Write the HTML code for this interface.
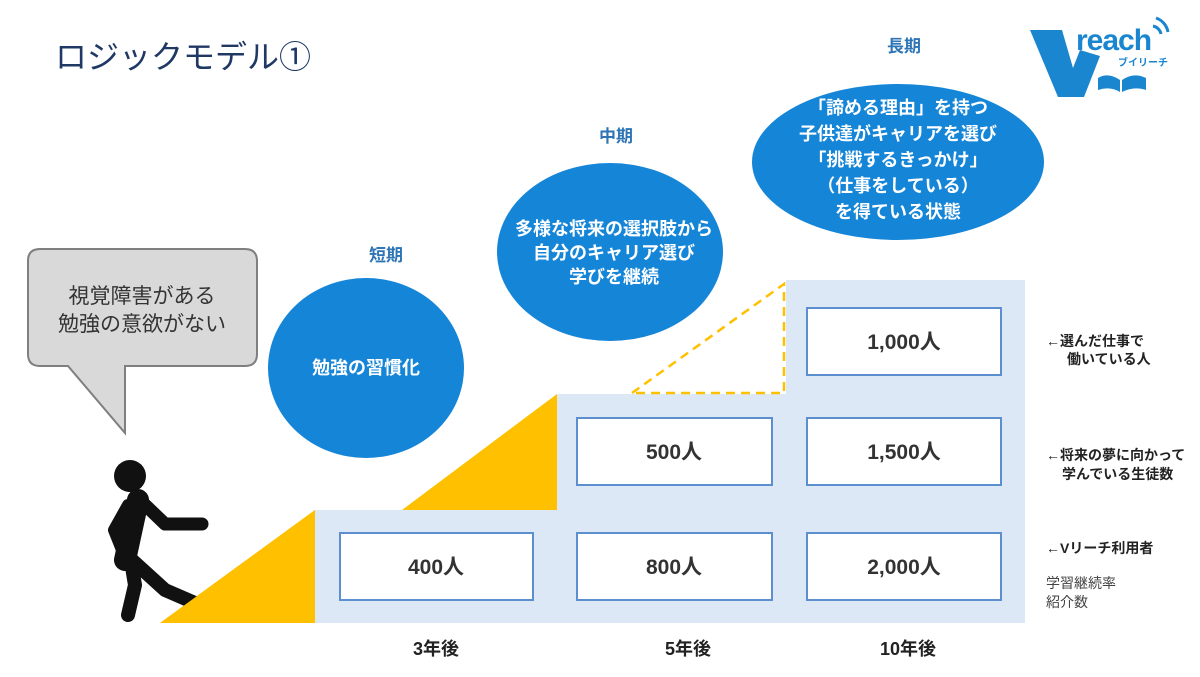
<!DOCTYPE html>
<html><head><meta charset="utf-8"><style>
html,body{margin:0;padding:0;background:#fff;}
svg{display:block;}
text{font-family:"Liberation Sans","Noto Sans CJK JP",sans-serif;}
</style></head><body>
<svg width="1200" height="677" viewBox="0 0 1200 677" xmlns="http://www.w3.org/2000/svg">
<text x="55" y="68" font-size="32" fill="#1f3864">ロジックモデル①</text>

<!-- logo -->
<g fill="#1a86d0">
<polygon points="1030,30 1062,30 1073,68 1080,50 1100,56 1084,97 1058,97"/>
<text x="1076" y="50" font-size="30" font-weight="bold" fill="#1a86d0" letter-spacing="-1">reach</text>
<text x="1118" y="66" font-size="10" font-weight="bold" fill="#1a86d0">ブイリーチ</text>
<path d="M1098 78 q10 -6 22 2 v12 q-10 -6 -22 -2 z M1122 80 q12 -8 24 -2 v12 q-12 -4 -24 2z"/>
<path d="M1153 26 a10 10 0 0 1 8 8" stroke="#1a86d0" stroke-width="3" fill="none"/>
<path d="M1156 18 a18 18 0 0 1 12 14" stroke="#1a86d0" stroke-width="3" fill="none"/>
</g>

<!-- light blue region -->
<polygon points="315,510 557,510 557,394 786,394 786,280 1025,280 1025,623 315,623" fill="#dce8f5"/>
<polygon points="160,623 315,510 315,623" fill="#ffc000"/>
<polygon points="402,510 557,394 557,510" fill="#ffc000"/>
<path d="M632 393 L784 284 L784 393 Z" fill="none" stroke="#ffc000" stroke-width="2.5" stroke-dasharray="9,6"/>

<g fill="#fff" stroke="#5b8fd0" stroke-width="2">
<rect x="340" y="533" width="193" height="67"/>
<rect x="577" y="533" width="195" height="67"/>
<rect x="807" y="533" width="194" height="67"/>
<rect x="577" y="418" width="195" height="67"/>
<rect x="807" y="418" width="194" height="67"/>
<rect x="807" y="308" width="194" height="67"/>
</g>
<g font-size="21" font-weight="bold" fill="#333" text-anchor="middle">
<text x="436" y="574">400人</text>
<text x="674" y="574">800人</text>
<text x="904" y="574">2,000人</text>
<text x="674" y="459">500人</text>
<text x="904" y="459">1,500人</text>
<text x="904" y="349">1,000人</text>
</g>

<g fill="#1585d8">
<ellipse cx="366" cy="368" rx="98" ry="90"/>
<ellipse cx="610" cy="252" rx="113" ry="89"/>
<ellipse cx="898" cy="162" rx="146" ry="78"/>
</g>
<g font-size="18" font-weight="bold" fill="#fff" text-anchor="middle">
<text x="366" y="374">勉強の習慣化</text>
<text x="614" y="235">多様な将来の選択肢から</text>
<text x="614" y="259">自分のキャリア選び</text>
<text x="614" y="283">学びを継続</text>
<text x="898" y="114">「諦める理由」を持つ</text>
<text x="898" y="140">子供達がキャリアを選び</text>
<text x="898" y="166">「挑戦するきっかけ」</text>
<text x="898" y="192">（仕事をしている）</text>
<text x="898" y="218">を得ている状態</text>
</g>
<g font-size="17" font-weight="bold" fill="#2e75b6" text-anchor="middle">
<text x="386" y="261">短期</text>
<text x="616" y="142">中期</text>
<text x="904" y="52">長期</text>
</g>

<path d="M40 249 H245 Q257 249 257 261 V354 Q257 366 245 366 H125 V433 L68 366 H40 Q28 366 28 354 V261 Q28 249 40 249 Z" fill="#d9d9d9" stroke="#7f7f7f" stroke-width="2"/>
<text x="142" y="303" font-size="21" fill="#333" text-anchor="middle">視覚障害がある</text>
<text x="142" y="331" font-size="21" fill="#333" text-anchor="middle">勉強の意欲がない</text>

<g fill="#111" stroke="#111" stroke-linecap="round" stroke-linejoin="round">
<circle cx="130" cy="476" r="16" stroke="none"/>
<path d="M138 500 L125 560" stroke-width="22" fill="none"/>
<path d="M140 500 L165 524 L202 524" stroke-width="13" fill="none"/>
<path d="M128 505 L114 530 L124 555" stroke-width="12" fill="none"/>
<path d="M130 555 L135 585 L128 615" stroke-width="14" fill="none"/>
<path d="M132 560 L165 590 L195 603" stroke-width="14" fill="none"/>
</g>
<polygon points="160,623 315,510 315,623" fill="#ffc000"/>

<g font-size="14" font-weight="bold" fill="#222">
<text x="1046" y="346">←選んだ仕事で</text>
<text x="1067" y="364">働いている人</text>
<text x="1046" y="460">←将来の夢に向かって</text>
<text x="1062" y="479">学んでいる生徒数</text>
<text x="1046" y="553">←Vリーチ利用者</text>
</g>
<text x="1046" y="588" font-size="14" fill="#444">学習継続率</text>
<text x="1046" y="607" font-size="14" fill="#444">紹介数</text>

<g font-size="18" font-weight="bold" fill="#222" text-anchor="middle">
<text x="436" y="655">3年後</text>
<text x="688" y="655">5年後</text>
<text x="908" y="655">10年後</text>
</g>
</svg>
</body></html>
